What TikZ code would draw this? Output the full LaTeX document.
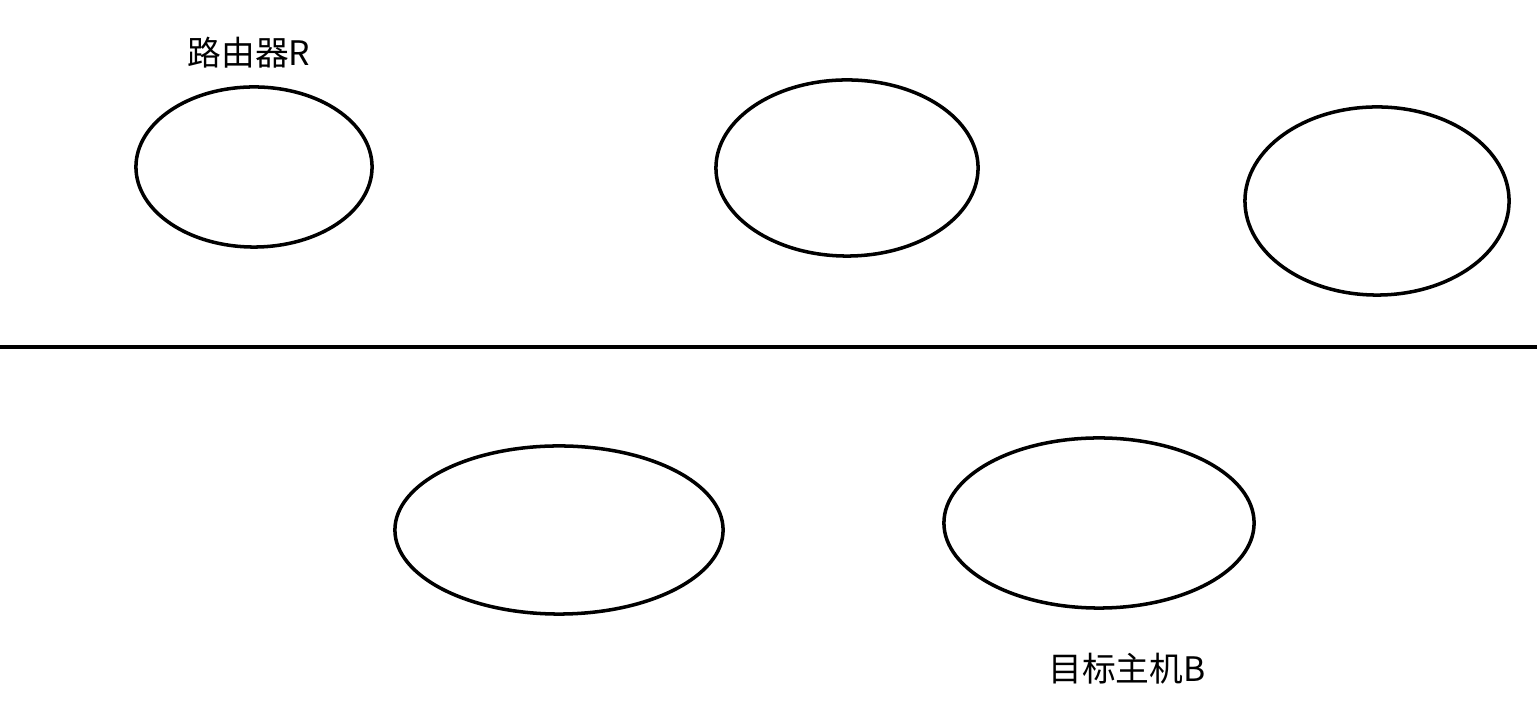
\documentclass[tikz,border=0pt]{standalone}
\usepackage{fontspec}
\newfontfamily\cjk{Noto Sans CJK SC}
\usetikzlibrary{shapes.geometric}

\begin{document}
\begin{tikzpicture}[x=0.01cm,y=0.01cm,
    net node/.style={ellipse,draw,line width=1pt,inner sep=0pt},
    name label/.style={font=\cjk\fontsize{9.6pt}{11pt}\selectfont,inner sep=0pt}]
        \useasboundingbox (0,0) rectangle (1537,722);
        \node[net node,minimum width=2.36cm,minimum height=1.60cm] (r) at (254,555) {};
        \node[net node,minimum width=2.62cm,minimum height=1.76cm] (n2) at (847,554) {};
        \node[net node,minimum width=2.64cm,minimum height=1.88cm] (n3) at (1377,521) {};
        \node[net node,minimum width=3.28cm,minimum height=1.68cm] (n4) at (559,192) {};
        \node[net node,minimum width=3.10cm,minimum height=1.70cm] (b) at (1099,199) {};
        \node[name label] (rlabel) at (249,669) {路由器R};
        \node[name label] (blabel) at (1127,53) {目标主机B};
        \coordinate (left) at (0,375);
        \coordinate (right) at (1537,375);
        \draw[line width=1.2pt] (left) -- (right);
      \end{tikzpicture}
\end{document}
